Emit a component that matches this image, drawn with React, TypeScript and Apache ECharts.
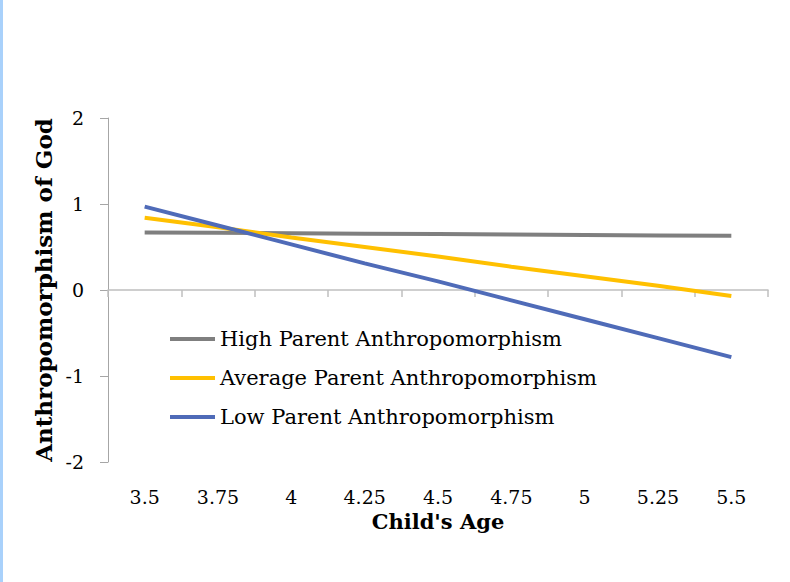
import React, { useEffect, useRef } from "react";
import * as echarts from "echarts";

const ages = ["3.5", "3.75", "4", "4.25", "4.5", "4.75", "5", "5.25", "5.5"];
const highParent = [0.67, 0.665, 0.66, 0.655, 0.65, 0.645, 0.64, 0.635, 0.63];
const averageParent = [0.84, 0.73, 0.61, 0.5, 0.39, 0.27, 0.16, 0.05, -0.07];
const lowParent = [0.97, 0.75, 0.53, 0.31, 0.1, -0.12, -0.34, -0.56, -0.78];
const yTicks = { min: -2, max: 2, interval: 1 };

const FONT = "DejaVu Serif";

export default function App() {
  const ref = useRef<HTMLDivElement>(null);
  useEffect(() => {
    if (!ref.current) return;
    const chart = echarts.init(ref.current, undefined, { renderer: "svg" });
    const mk = (name: string, data: number[], color: string) => ({
      name,
      type: "line",
      data,
      symbol: "none",
      lineStyle: { color, width: 4 },
      itemStyle: { color },
      z: 3,
    });
    chart.setOption({
      animation: false,
      backgroundColor: "#fff",
      grid: { left: 108, right: 22, top: 118, bottom: 120, containLabel: false },
      legend: {
        orient: "vertical",
        left: 165,
        top: 322,
        icon: "rect",
        itemWidth: 45,
        itemHeight: 4,
        itemGap: 15,
        textStyle: {
          fontFamily: FONT,
          fontSize: 21,
          lineHeight: 24,
          color: "#000",
        },
        data: [
          "High Parent Anthropomorphism",
          "Average Parent Anthropomorphism",
          "Low Parent Anthropomorphism",
        ],
      },
      xAxis: {
        type: "category",
        data: ages,
        boundaryGap: true,
        name: "Child's Age",
        nameLocation: "middle",
        nameGap: 37,
        nameTextStyle: {
          fontFamily: FONT,
          fontSize: 21,
          fontWeight: "bold",
          color: "#000",
        },
        axisLine: { onZero: true, lineStyle: { color: "#bfbfbf", width: 1.5 } },
        axisTick: { show: true, length: 7, alignWithLabel: false, lineStyle: { color: "#bfbfbf", width: 1.5 } },
        axisLabel: {
          fontFamily: FONT,
          fontSize: 19,
          color: "#000",
          margin: 25,
        },
      },
      yAxis: {
        type: "value",
        min: yTicks.min,
        max: yTicks.max,
        interval: yTicks.interval,
        name: "Anthropomorphism of God",
        nameLocation: "middle",
        nameGap: 53,
        nameRotate: 90,
        nameTextStyle: { fontFamily: FONT, fontSize: 23, fontWeight: "bold", color: "#000" },
        splitLine: { show: false },
        axisLine: { show: true, lineStyle: { color: "#a6a6a6", width: 1 } },
        axisTick: { show: true, length: 8, lineStyle: { color: "#a6a6a6" } },
        axisLabel: { fontFamily: FONT, fontSize: 19, color: "#000", margin: 24 },
      },
      series: [
        mk("High Parent Anthropomorphism", highParent, "#7f7f7f"),
        mk("Average Parent Anthropomorphism", averageParent, "#ffc000"),
        mk("Low Parent Anthropomorphism", lowParent, "#4f6bb8"),
      ],
    });
    return () => chart.dispose();
  }, []);
  return (
    <div
      style={{
        position: "fixed",
        left: 0,
        top: 0,
        width: 790,
        height: 582,
        background: "#fff",
      }}
    >
      <div
        style={{ position: "absolute", left: 0, top: 0, width: 3, height: 582, background: "#a9d1fb", zIndex: 2 }}
      />
      <div ref={ref} style={{ position: "absolute", left: 0, top: 0, width: 790, height: 582 }} />
    </div>
  );
}
